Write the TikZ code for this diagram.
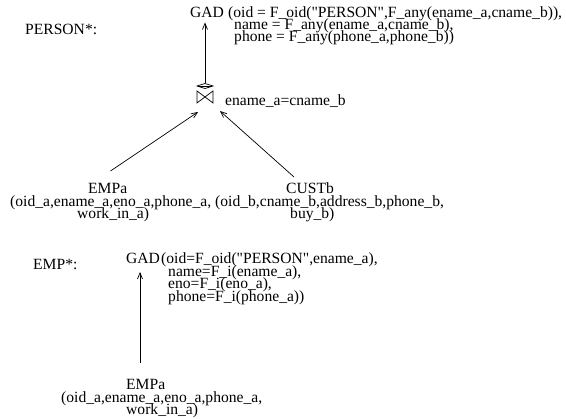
\documentclass[tikz,border=0pt]{standalone}
\usepackage{fontspec}
\setmainfont{Liberation Serif}[Ligatures=TeXReset]
\usetikzlibrary{arrows.meta}
\begin{document}
\begin{tikzpicture}[x=1pt,y=-1pt,
  txt/.style={inner sep=0pt, anchor=base west, font=\fontsize{15.6}{12}\selectfont},
  arr/.style={line width=0.7pt, -{Straight Barb[length=6pt,width=5pt]}},
  sym/.style={line width=0.7pt}]
\useasboundingbox[fill=white] (0,0) rectangle (566,419);
% ---- PERSON* ----
\node[txt] (person) at (25,35) {PERSON*:};
\node[txt] (gad1) at (190,18) {GAD};
\node[txt] (gad1a) at (228,18) {(oid = F\_oid("PERSON",F\_any(ename\_a,cname\_b)),};
\node[txt] (gad1b) at (234,30) {name = F\_any(ename\_a,cname\_b),};
\node[txt] (gad1c) at (234,42) {phone = F\_any(phone\_a,phone\_b))};
% join symbol
\coordinate (join) at (205,97);
\begin{scope}[shift={(205,97)}]
  \draw[sym] (-8,-6) -- (8,6) -- (8,-6) -- (-8,6) -- cycle;
  \draw[sym] (0,-13.5) -- (8,-11) -- (0,-8.5) -- (-8,-11) -- cycle;
  \draw[sym] (-6,-11) -- (6,-11);
\end{scope}
\node[txt] (cond) at (225,106) {ename\_a=cname\_b};
% sources
\node[txt] (empa) at (88,194) {EMPa};
\node[txt] (empa2) at (10,206.5) {(oid\_a,ename\_a,eno\_a,phone\_a,};
\node[txt] (empa3) at (77,219) {work\_in\_a)};
\node[txt] (custb) at (286,194) {CUSTb};
\node[txt] (custb2) at (215,206.5) {(oid\_b,cname\_b,address\_b,phone\_b,};
\node[txt] (custb3) at (290,219) {buy\_b)};
% connector ends
\coordinate (jtop) at (205,83.5);
\coordinate (gad1in) at (205,22.5);
\coordinate (jl) at (198,112);
\coordinate (jr) at (220,111);
\coordinate (empaout) at (110.5,171);
\coordinate (custbout) at (294,177);
\draw[arr] (jtop) -- (gad1in);
\draw[arr] (empaout) -- (jl);
\draw[arr] (custbout) -- (jr);
% ---- EMP* ----
\node[txt] (emp) at (33,270) {EMP*:};
\node[txt] (gad2) at (126,264) {GAD};
\node[txt] (gad2a) at (161,264) {(oid=F\_oid("PERSON",ename\_a),};
\node[txt] (gad2b) at (168,276.5) {name=F\_i(ename\_a),};
\node[txt] (gad2c) at (168,289) {eno=F\_i(eno\_a),};
\node[txt] (gad2d) at (168,301.5) {phone=F\_i(phone\_a))};
\node[txt] (empb) at (126,390) {EMPa};
\node[txt] (empb2) at (61,402.5) {(oid\_a,ename\_a,eno\_a,phone\_a,};
\node[txt] (empb3) at (126,415) {work\_in\_a)};
\coordinate (empbout) at (140,363);
\coordinate (gad2in) at (140,272);
\draw[arr] (empbout) -- (gad2in);
\end{tikzpicture}
\end{document}
